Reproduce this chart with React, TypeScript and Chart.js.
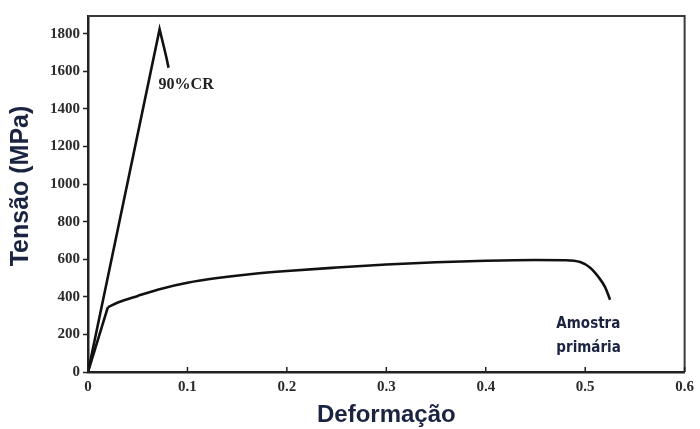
import React, { useEffect, useRef } from "react";
import { Chart, registerables } from "chart.js";

Chart.register(...registerables);

const strainCR = [0, 0.072, 0.0745, 0.077, 0.079, 0.081];
const stressCR = [0, 1825, 1770, 1715, 1670, 1620];

const strainPrim = [0, 0.02, 0.03, 0.05, 0.075, 0.1, 0.13, 0.165, 0.2, 0.25, 0.3, 0.35, 0.4, 0.45, 0.48, 0.495, 0.505, 0.513, 0.52, 0.525];
const stressPrim = [0, 345, 370, 405, 445, 475, 500, 522, 538, 556, 572, 584, 592, 596, 595, 585, 555, 508, 452, 385];

const xTickValues = [0, 0.1, 0.2, 0.3, 0.4, 0.5, 0.6];
const yTickValues = [0, 200, 400, 600, 800, 1000, 1200, 1400, 1600, 1800];

const seriesLabels = ["90%CR", "Amostra primária"];
const xTitle = "Deformação";
const yTitle = "Tensão (MPa)";

const framePlugin = {
  id: "frame",
  afterDraw(chart: any) {
    const { ctx, chartArea, scales } = chart;
    ctx.save();
    ctx.strokeStyle = "#3a3a3a";
    ctx.lineWidth = 2;
    ctx.beginPath();
    ctx.moveTo(chartArea.left, chartArea.top);
    ctx.lineTo(chartArea.right, chartArea.top);
    ctx.lineTo(chartArea.right, chartArea.bottom);
    ctx.stroke();
    // inward x tick marks
    ctx.strokeStyle = "#222";
    ctx.lineWidth = 1.5;
    xTickValues.forEach((v) => {
      const px = scales.x.getPixelForValue(v);
      ctx.beginPath();
      ctx.moveTo(px, chartArea.bottom);
      ctx.lineTo(px, chartArea.bottom - 5);
      ctx.stroke();
    });
    // annotations
    ctx.fillStyle = "#222";
    ctx.font = "bold 16px 'Liberation Serif', serif";
    ctx.textAlign = "left";
    ctx.textBaseline = "middle";
    ctx.fillText(seriesLabels[0], scales.x.getPixelForValue(0.071), scales.y.getPixelForValue(1527));
    ctx.fillStyle = "#1a2340";
    ctx.font = "bold 15px 'DejaVu Sans Condensed', 'DejaVu Sans', sans-serif";
    const parts = seriesLabels[1].split(" ");
    ctx.fillText(parts[0], scales.x.getPixelForValue(0.471), scales.y.getPixelForValue(255));
    ctx.fillText(parts[1], scales.x.getPixelForValue(0.471), scales.y.getPixelForValue(128));
    // y axis title
    ctx.save();
    ctx.translate(21, (chartArea.top + chartArea.bottom) / 2 - 8);
    ctx.rotate(-Math.PI / 2);
    ctx.textAlign = "center";
    ctx.textBaseline = "middle";
    ctx.fillStyle = "#1a2340";
    ctx.font = "bold 25px 'Liberation Sans', Arial, sans-serif";
    ctx.fillText(yTitle, 0, 0);
    ctx.restore();
    ctx.restore();
  },
};

const bgPlugin = {
  id: "bg",
  beforeDraw(chart: any) {
    const { ctx, width, height } = chart;
    ctx.save();
    ctx.fillStyle = "#fff";
    ctx.fillRect(0, 0, width, height);
    ctx.restore();
  },
};

export default function App() {
  const ref = useRef<HTMLCanvasElement>(null);
  useEffect(() => {
    document.body.style.margin = "0";
    const canvas = ref.current!;
    const lineStyle = { borderColor: "#111", borderWidth: 2.6, pointRadius: 0 };
    const chart = new Chart(canvas, {
      type: "line",
      data: {
        datasets: [
          {
            label: seriesLabels[0],
            data: strainCR.map((x, i) => ({ x, y: stressCR[i] })),
            ...lineStyle,
            tension: 0,
          },
          {
            label: seriesLabels[1] + " (elástico)",
            data: strainPrim.slice(0, 2).map((x, i) => ({ x, y: stressPrim[i] })),
            ...lineStyle,
            tension: 0,
          },
          {
            label: seriesLabels[1],
            data: strainPrim.slice(1).map((x, i) => ({ x, y: stressPrim[i + 1] })),
            ...lineStyle,
            cubicInterpolationMode: "monotone",
          },
        ],
      },
      options: {
        responsive: false,
        animation: false,
        layout: { padding: { top: 16, right: 13, left: 0, bottom: 0 } },
        plugins: { legend: { display: false }, tooltip: { enabled: false } },
        scales: {
          x: {
            type: "linear",
            min: 0,
            max: 0.6,
            afterBuildTicks: (axis: any) => {
              axis.ticks = xTickValues.map((v) => ({ value: v }));
            },
            afterFit: (axis: any) => {
              axis.height = 57;
            },
            ticks: {
              padding: 6,
              color: "#2b2b2b",
              font: { family: "'Liberation Serif', serif", size: 15, weight: "bold" },
              callback: (v: any) => (v === 0 ? "0" : Number(v).toFixed(1)),
              maxRotation: 0,
            },
            grid: { display: true, drawOnChartArea: false, drawTicks: false },
            border: { display: true, color: "#222", width: 2.5 },
            title: {
              display: true,
              text: xTitle,
              color: "#1a2340",
              font: { family: "'Liberation Sans', Arial, sans-serif", size: 24, weight: "bold", lineHeight: 1.1 },
              padding: { top: 0, bottom: 0 },
            },
          },
          y: {
            type: "linear",
            min: 0,
            max: 1895,
            afterBuildTicks: (axis: any) => {
              axis.ticks = yTickValues.map((v) => ({ value: v }));
            },
            afterFit: (axis: any) => {
              axis.width = 88;
            },
            ticks: {
              padding: 3,
              color: "#2b2b2b",
              font: { family: "'Liberation Serif', serif", size: 15, weight: "bold" },
              callback: (v: any) => String(v),
            },
            grid: { display: true, drawOnChartArea: false, drawTicks: true, tickLength: 5, color: "#222", tickWidth: 1.5 },
            border: { display: true, color: "#222", width: 2.5 },
            title: { display: false },
          },
        },
      },
      plugins: [bgPlugin, framePlugin],
    } as any);
    return () => chart.destroy();
  }, []);
  return (
    <div style={{ width: 700, height: 429 }}>
      <canvas ref={ref} width={700} height={429} />
    </div>
  );
}
